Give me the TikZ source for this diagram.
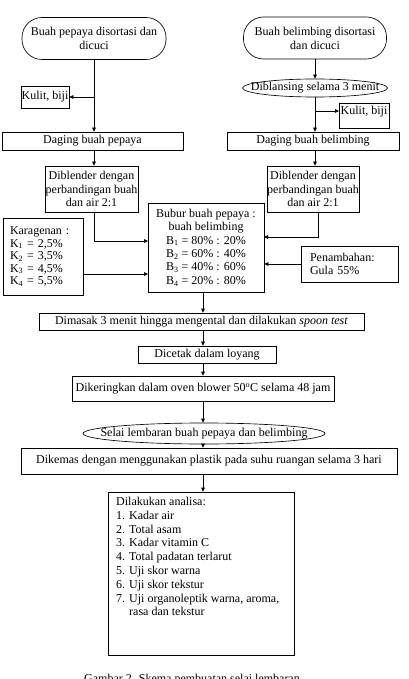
\documentclass[tikz,border=0pt]{standalone}
\usepackage{fontspec}
\setmainfont{Liberation Serif}
\usetikzlibrary{arrows.meta,shapes.geometric,calc}
\begin{document}
\begin{tikzpicture}[x=1pt,y=-1pt,
  font=\fontsize{12}{13.8}\selectfont,
  box/.style={draw, line width=0.65pt, inner sep=0pt, align=center},
  term/.style={draw, line width=0.65pt, inner sep=0pt, align=center, rounded corners=20pt},
  oval/.style={draw, ellipse, line width=0.65pt, inner ysep=0pt, text height=8pt, text depth=2pt},
  arr/.style={-{Triangle[length=4pt,width=3.6pt]}, line width=0.65pt}]
\useasboundingbox (0,0) rectangle (409,679);
\clip (0,0) rectangle (409,679);
\coordinate (spine) at (203,0);
% top row
\node[term, minimum width=144, minimum height=42] (t1) at (94,38.5) {Buah pepaya disortasi dan\\dicuci};
\node[term, minimum width=143, minimum height=42] (t2) at (315,38) {Buah belimbing disortasi\\dan dicuci};
\node[box, minimum width=48, minimum height=22] (kl) at (45,97) {Kulit, biji};
\node[oval, inner xsep=-15pt, minimum width=145, minimum height=18] (eb) at (315,88) {Diblansing selama 3 menit};
\node[box, minimum width=50, minimum height=25, anchor=north west] (kr) at (339,103) {};
\node[anchor=base, inner sep=0pt] (krt) at (364,115) {Kulit, biji};
\coordinate (krin) at (339,111);
\node[box, minimum width=181, minimum height=18] (dp) at (92.5,141) {Daging buah pepaya};
\node[box, minimum width=172, minimum height=18] (db) at (313,141) {Daging buah belimbing};
\node[box, minimum width=93, minimum height=46] (bl) at (91.5,189) {Diblender dengan\\perbandingan buah\\dan air 2:1};
\node[box, minimum width=92, minimum height=46] (br) at (313,189) {Diblender dengan\\perbandingan buah\\dan air 2:1};
\node[box, minimum width=116, minimum height=89, font=\fontsize{12}{13.4}\selectfont] (bb) at (206,247.5)
  {Bubur buah pepaya :\\buah belimbing\\B\textsubscript{1} = 80\% : 20\%\\B\textsubscript{2} = 60\% : 40\%\\B\textsubscript{3} = 40\% : 60\%\\B\textsubscript{4} = 20\% : 80\%};
\node[box, minimum width=80, minimum height=77, inner xsep=7pt, text width=66pt, align=left, font=\fontsize{12}{12.5}\selectfont] (kg) at (43,256.5)
  {Karagenan :\\K\textsubscript{1} = 2,5\%\\K\textsubscript{2} = 3,5\%\\K\textsubscript{3} = 4,5\%\\K\textsubscript{4} = 5,5\%};
\node[box, minimum width=97, minimum height=36, inner xsep=9pt, text width=79pt, align=left] (pn) at (349.5,264) {Penambahan:\\Gula 55\%};
\coordinate (bbL1) at (148,241);
\coordinate (bbL2) at (148,274);
\coordinate (bbR1) at (264,237);
% main column
\node[box, minimum width=325, minimum height=17] (dm) at (201.5,321.5) {Dimasak 3 menit hingga mengental dan dilakukan \textit{spoon test}};
\node[box, minimum width=138, minimum height=17] (dc) at (207,354.5) {Dicetak dalam loyang};
\node[box, minimum width=262, minimum height=25] (dk) at (203,388.5) {Dikeringkan dalam oven blower 50\textsuperscript{o}C selama 48 jam};
\node[oval, inner xsep=-30pt, minimum width=242, minimum height=21] (sl) at (204,433.5) {Selai lembaran buah pepaya dan belimbing};
\node[box, minimum width=376, minimum height=26] (dm2) at (209,461) {Dikemas dengan menggunakan plastik pada suhu ruangan selama 3 hari};
\node[box, minimum width=186, minimum height=163] (an) at (201,573.5) {};
\node[anchor=north west, inner sep=0pt, align=left] (ant) at (116,497)
  {Dilakukan analisa:\\1. Kadar air\\2. Total asam\\3. Kadar vitamin C\\4. Total padatan terlarut\\5. Uji skor warna\\6. Uji skor tekstur\\7. Uji organoleptik warna, aroma,\\\phantom{7. }rasa dan tekstur};
\node[anchor=base, inner sep=0pt] (cap) at (192,682) {Gambar 2. Skema pembuatan selai lembaran};
% connectors
\draw[arr] (t1.south) -- (t1.south |- dp.north);
\draw[arr] (t1.south |- kl.east) -- (kl.east);
\draw[arr] (t2.south) -- (eb.north);
\draw[arr] (eb.south) -- (eb.south |- db.north);
\draw[arr] (eb.south |- krin) -- (krin);
\draw[arr] (t1.south |- dp.south) -- (t1.south |- bl.north);
\draw[arr] (eb.south |- db.south) -- (eb.south |- br.north);
\draw[arr] (bl.south -| t1.south) |- (bbL1);
\draw[arr] (kg.east |- bbL2) -- (bbL2);
\draw[arr] ($(br.south)+(5,0)$) |- (bbR1);
\draw[arr] (pn.west) -- (pn.west -| bb.east);
\draw[arr] (bb.south -| spine) -- (dm.north -| spine);
\draw[arr] (dm.south -| spine) -- (dc.north -| spine);
\draw[arr] (dc.south -| spine) -- (dk.north -| spine);
\draw[arr] (dk.south -| spine) -- (sl.north -| spine);
\draw[arr] (sl.south -| spine) -- (dm2.north -| spine);
\draw[arr] (dm2.south -| spine) -- (an.north -| spine);
\end{tikzpicture}
\end{document}
